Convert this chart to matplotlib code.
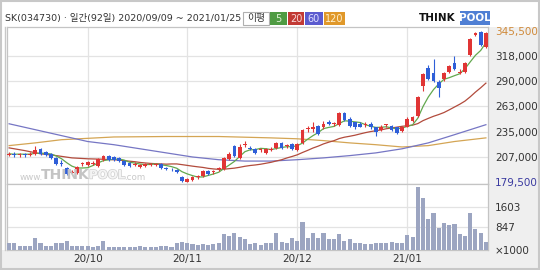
import matplotlib
matplotlib.use('Agg')
import matplotlib.pyplot as plt
import numpy as np
import pandas as pd
from matplotlib.patches import Rectangle
import matplotlib.patheffects as pe

plt.rcParams['font.family'] = ['DejaVu Sans', 'Noto Sans CJK KR']

# ---------------- data ----------------
opens = [209500, 210500, 209500, 210500, 209500, 210500, 216000, 212500, 210500, 206000,
         200500, 195000, 189500, 189500, 199500, 198500, 199500, 197000, 204000, 208500,
         207000, 206000, 202500, 200500, 198500, 196000, 197000, 198500, 198000, 199500,
         195000, 194000, 193000, 185000, 180000, 181500, 185000, 186000, 191500, 190500,
         194000, 194000, 205000, 219500, 206000, 220500, 217000, 216000, 215000, 211500,
         215000, 217000, 222500, 219500, 221500, 215000, 222500, 238000, 238000, 241500,
         239500, 246000, 243500, 242500, 255000, 249000, 245000, 243500, 242500, 243500,
         239500, 237000, 242500, 241500, 239500, 236000, 240500, 247000, 252500, 285500,
         304500, 299000, 289000, 292500, 300000, 310000, 300000, 300000, 319000, 341000,
         344500, 328000]
highs = [212500, 212500, 211500, 211500, 212500, 219500, 217000, 214000, 211500, 207000,
         204000, 196000, 193000, 197000, 201500, 202500, 202500, 206000, 209500, 209500,
         208500, 207000, 204000, 201500, 201500, 199500, 200500, 200500, 200500, 200500,
         196000, 195000, 194000, 186000, 184000, 186000, 187500, 193000, 193000, 193000,
         196000, 207000, 212500, 220500, 221500, 225000, 219500, 217000, 217000, 217000,
         218000, 224000, 224000, 221500, 222500, 222500, 238000, 241500, 246000, 242500,
         247000, 248000, 246000, 256000, 256000, 250500, 246000, 245000, 245000, 245000,
         240500, 242500, 243500, 242500, 240500, 241500, 250500, 252500, 274500, 299000,
         308000, 314500, 291500, 300000, 308000, 318000, 303500, 311000, 338000, 344500,
         345500, 344500]
lows = [208500, 207000, 207000, 207000, 208500, 209500, 209500, 208500, 205000, 198500,
        197000, 187500, 188500, 188500, 197000, 197000, 198500, 196000, 202500, 202500,
        202500, 201500, 197000, 196000, 197000, 195000, 196000, 197000, 197000, 194000,
        193000, 191500, 189500, 180000, 179500, 180500, 183000, 185000, 187500, 188500,
        191500, 193000, 204000, 207000, 205000, 218000, 215000, 210500, 212500, 210500,
        214000, 216000, 216000, 217000, 215000, 214000, 221500, 235000, 235000, 231500,
        238000, 242500, 241500, 241500, 247000, 240500, 238000, 239500, 240500, 238000,
        230500, 236000, 240500, 236000, 232500, 235000, 239500, 246000, 251500, 280000,
        291500, 289000, 272500, 290000, 299000, 302500, 298000, 299000, 318000, 340000,
        329000, 326500]
closes = [210500, 209500, 210500, 209500, 210500, 215000, 210500, 209500, 206000, 199500,
          200000, 188500, 190500, 196000, 199500, 201500, 200500, 205000, 208500, 204000,
          204000, 202500, 198500, 197000, 199500, 198500, 199500, 199500, 199500, 195000,
          194500, 193500, 190500, 180500, 183000, 185000, 185500, 191500, 188500, 191000,
          194500, 206000, 210500, 208500, 218000, 221000, 216500, 211500, 215500, 216000,
          216000, 222500, 217000, 220000, 216000, 221500, 237000, 238500, 239500, 232500,
          243500, 243500, 244000, 255000, 248000, 241500, 239500, 240500, 243000, 239500,
          235000, 240500, 243000, 237000, 233500, 240500, 249000, 251500, 273500, 298000,
          292500, 290000, 282500, 299000, 307000, 303500, 300500, 310000, 336500, 343500,
          330000, 343500]
volume_k = [250, 275, 163, 163, 163, 463, 275, 163, 163, 250,
            275, 338, 163, 163, 163, 163, 125, 163, 338, 125,
            125, 125, 125, 100, 125, 150, 125, 100, 125, 150,
            163, 100, 250, 300, 250, 213, 188, 225, 188, 213,
            250, 600, 538, 650, 500, 413, 225, 275, 188, 250,
            250, 625, 313, 250, 463, 338, 1038, 463, 625, 438,
            625, 400, 400, 600, 338, 400, 250, 250, 225, 225,
            250, 250, 275, 313, 275, 250, 563, 500, 2363, 1938,
            1150, 1400, 813, 1025, 938, 963, 600, 525, 1375, 775,
            650, 288]

# moving averages (index, value)
ma20_head_idx = [0, 3, 6, 9, 12, 15, 18]
ma20_head_val = [217000, 214000, 210500, 208500, 206000, 205000, 204500]
ma60_idx = [0, 5, 10, 15, 20, 25, 30, 35, 40, 45, 50, 55, 60, 65, 70, 75, 80, 85, 91]
ma60_val = [243500, 237000, 230500, 224000, 220500, 216000, 211500, 207000, 204000, 202500,
            202500, 204000, 206000, 208500, 211500, 216000, 222500, 231500, 242500]
ma120_idx = [0, 5, 10, 15, 20, 30, 40, 50, 55, 60, 65, 70, 75, 80, 85, 91]
ma120_val = [219500, 222500, 226000, 227500, 229000, 229500, 229500, 228000, 227000, 225000,
             222500, 220500, 218000, 219500, 224000, 228000]

month_idx = [15, 34, 55, 76]
month_labels = ['20/10', '20/11', '20/12', '21/01']
price_ticks = [179500, 207000, 235000, 263000, 290000, 318000, 345500]
price_tick_labels = ['179,500', '207,000', '235,000', '263,000', '290,000', '318,000', '345,500']
vol_ticks = [0, 847, 1603]
vol_tick_labels = ['×1000', '847', '1603']

title = 'SK(034730) · 일간(92일) 2020/09/09 ~ 2021/01/25'
ma_names = ['5', '20', '60', '120']

# ---------------- figure ----------------
W, H = 540, 270
fig = plt.figure(figsize=(5.4, 2.7), dpi=100)
fig.patch.set_facecolor('white')

def frect(x0, y0, x1, y1):
    return [x0 / W, 1 - y1 / H, (x1 - x0) / W, (y1 - y0) / H]

def fpt(x, y):
    return x / W, 1 - y / H

def add_rect(x0, y0, x1, y1, fc, ec='none', lw=0, z=0):
    r = Rectangle(fpt(x0, y1), (x1 - x0) / W, (y1 - y0) / H, transform=fig.transFigure,
                  facecolor=fc, edgecolor=ec, linewidth=lw, zorder=z)
    fig.patches.append(r)

# gray backgrounds (right axis column and bottom label row), drawn under the axes
add_rect(488, 27, 540, 270, '#efefef', z=-2)
add_rect(0, 250, 540, 270, '#efefef', z=-2)

GRID = '#e3e3e3'
EDGE = '#c4c4c4'
UP = '#e03535'
DOWN = '#2f5fd8'

ax_p = fig.add_axes(frect(7, 27, 488, 184))
ax_v = fig.add_axes(frect(7, 184, 488, 250))
for ax in (ax_p, ax_v):
    ax.set_zorder(1)

x = np.arange(len(closes))
o = np.array(opens, float); c = np.array(closes, float)
h = np.array(highs, float); l = np.array(lows, float)
up = c >= o
cols = np.where(up, UP, DOWN)

for ax in (ax_p, ax_v):
    ax.set_xlim(-0.4, 91.4)
    for m in month_idx:
        ax.axvline(m, color=GRID, lw=0.9, zorder=0)
    for s in ax.spines.values():
        s.set_color(EDGE)
        s.set_linewidth(0.9)

ax_p.set_ylim(177287, 349927)
for t in price_ticks[1:-1]:
    ax_p.axhline(t, color=GRID, lw=0.9, zorder=0)

# moving averages
ma5 = pd.Series(c).rolling(5, min_periods=1).mean().values
ma20_roll = pd.Series(c).rolling(20).mean()
ax_p.plot(ma120_idx, ma120_val, color='#d4a554', lw=0.9, zorder=2)
ax_p.plot(ma60_idx, ma60_val, color='#7676c4', lw=0.9, zorder=2)
ma20_x = ma20_head_idx + list(range(19, len(c)))
ma20_y = ma20_head_val + list(ma20_roll.values[19:])
ax_p.plot(ma20_x, ma20_y, color='#b24b3c', lw=0.9, zorder=2)
ax_p.plot(x, ma5, color='#62a84e', lw=0.9, zorder=2)

# candles
ax_p.vlines(x, l, h, colors=cols, lw=0.8, zorder=3)
body_bottom = np.minimum(o, c)
body_h = np.abs(c - o)
min_h = 900
body_bottom = np.where(body_h < min_h, (o + c) / 2 - min_h / 2, body_bottom)
body_h = np.maximum(body_h, min_h)
ax_p.bar(x, body_h, bottom=body_bottom, width=0.72, color=cols, linewidth=0, zorder=4)

ax_p.yaxis.tick_right()
ax_p.set_yticks(price_ticks)
ax_p.set_yticklabels(price_tick_labels)
ax_p.tick_params(axis='y', length=0, pad=5, labelsize=7.5, labelcolor='#333333')
for lab, col in zip(ax_p.get_yticklabels(), ['#3a3aa0'] + ['#333333'] * 5 + ['#d08a3a']):
    lab.set_color(col)
ax_p.tick_params(axis='x', length=0, labelbottom=False)

# volume
ax_v.bar(x, volume_k, width=0.78, color='#9ca5c1', linewidth=0, zorder=3)
ax_v.set_ylim(0, 2480)
for t in vol_ticks[1:]:
    ax_v.axhline(t, color=GRID, lw=0.9, zorder=0)
ax_v.yaxis.tick_right()
ax_v.set_yticks(vol_ticks)
ax_v.set_yticklabels(vol_tick_labels)
ax_v.tick_params(axis='y', length=0, pad=5, labelsize=7.5, labelcolor='#333333')
ax_v.set_xticks(month_idx)
ax_v.set_xticklabels(month_labels)
ax_v.tick_params(axis='x', length=0, pad=3, labelsize=7.5, labelcolor='#333333')

# watermark
fig.text(*fpt(20, 177), 'www.', fontsize=6.3, color='#c9c9c9', va='center', ha='left', zorder=5)
fig.text(*fpt(41, 175), 'THINK', fontsize=10, fontweight='bold', color='#c4c4c4', va='center', ha='left', zorder=5)
fig.text(*fpt(89, 175), 'POOL', fontsize=8.5, fontweight='bold', color='#f4f4f4', va='center', ha='left', zorder=5,
         path_effects=[pe.withStroke(linewidth=1.0, foreground='#cfcfcf')])
fig.text(*fpt(124, 177), '.com', fontsize=6.3, color='#c9c9c9', va='center', ha='left', zorder=5)

# header
fig.text(*fpt(5, 18), title, fontsize=6.8, color='#333333', va='center', ha='left')
add_rect(243, 12, 269, 25, 'white', ec='#b0b0b0', lw=0.8, z=1)
fig.text(*fpt(256, 18.5), '이평', fontsize=7, color='#333333', va='center', ha='center', zorder=3)
box_specs = [(270, 287, '#4f9b43', '#dff3d6'), (288, 304, '#c23a35', '#f8d8d8'),
             (305, 323, '#5b5bcf', '#e0e0ff'), (324, 345, '#e0982a', '#fff0cc')]
for (x0, x1, fc, tc), name in zip(box_specs, ma_names):
    add_rect(x0, 12, x1, 25, fc, z=1)
    fig.text(*fpt((x0 + x1) / 2, 18.5), name, fontsize=7, color=tc, va='center', ha='center', zorder=3)

# logo
fig.text(*fpt(419, 18), 'THINK', fontsize=7.5, fontweight='bold', color='#111111', va='center', ha='left', zorder=3)
add_rect(460, 11, 490, 25, '#4f7fd4', z=1)
fig.text(*fpt(475, 18), 'POOL', fontsize=7.5, fontweight='bold', color='white', va='center', ha='center', zorder=3)

# outer frame
add_rect(1, 1, 539, 269, 'none', ec='#c8c8c8', lw=1.5, z=5)
fig.lines.append(plt.Line2D([5 / W, 5 / W], [1 - 27 / H, 1 - 250 / H], transform=fig.transFigure,
                            color='#c8c8c8', lw=1.0))

fig.savefig('out.png', dpi=100)
